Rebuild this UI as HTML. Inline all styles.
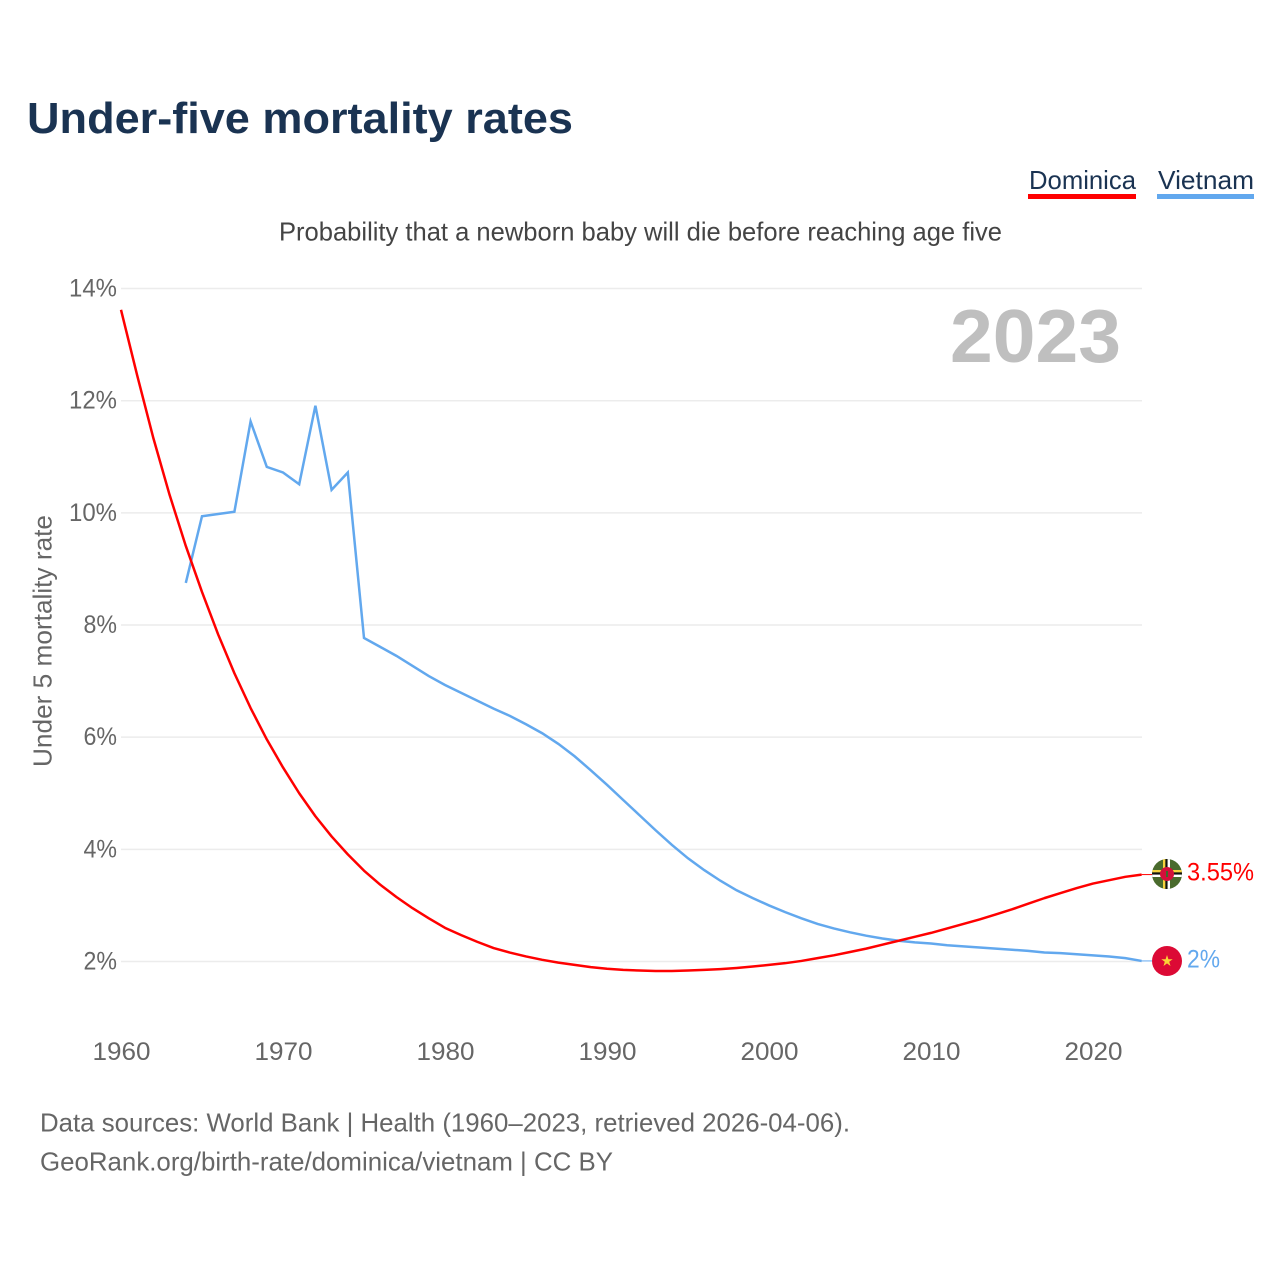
<!DOCTYPE html>
<html lang="en">
<head>
<meta charset="utf-8">
<title>Under-five mortality rates</title>
<style>
html,body{margin:0;padding:0;background:#fff;width:1280px;height:1280px;overflow:hidden}
svg{display:block}
text{font-family:"Liberation Sans",sans-serif}
</style>
</head>
<body>
<svg id="chart" xmlns="http://www.w3.org/2000/svg" width="1280" height="1280" viewBox="0 0 1280 1280">
  <defs>
    <clipPath id="clip-dm"><circle cx="1167" cy="874" r="15"/></clipPath>
    <clipPath id="clip-vn"><circle cx="1167" cy="961" r="15"/></clipPath>
  </defs>
  <text x="27" y="133" font-size="44" font-weight="700" fill="#1a3352" textLength="546" lengthAdjust="spacingAndGlyphs">Under-five mortality rates</text>

  <g>
    <text x="1029" y="189" font-size="26" fill="#1a3352" textLength="107" lengthAdjust="spacingAndGlyphs">Dominica</text>
    <rect x="1028" y="194" width="108" height="5" fill="#ff0000"/>
  </g>
  <g>
    <text x="1158" y="189" font-size="26" fill="#1a3352" textLength="96" lengthAdjust="spacingAndGlyphs">Vietnam</text>
    <rect x="1157" y="194" width="97" height="5" fill="#62a8ee"/>
  </g>

  <text x="279" y="240.5" font-size="26" fill="#444" textLength="723" lengthAdjust="spacingAndGlyphs">Probability that a newborn baby will die before reaching age five</text>
  <text transform="translate(51.5,767) rotate(-90)" font-size="26" fill="#666" textLength="252" lengthAdjust="spacingAndGlyphs">Under 5 mortality rate</text>

  <g id="grid"></g>
  <g id="y-ticks"></g>
  <g id="x-ticks"></g>

  <text x="950" y="362" font-size="75" font-weight="700" fill="#bfbfbf" textLength="171" lengthAdjust="spacingAndGlyphs">2023</text>

  <g id="series"></g>

  <g clip-path="url(#clip-dm)">
    <rect x="1152" y="859" width="30" height="30" fill="#4a6b2d"/>
    <rect x="1163" y="859" width="2.4" height="30" fill="#f5d33c"/>
    <rect x="1165.4" y="859" width="2.2" height="30" fill="#111"/>
    <rect x="1167.6" y="859" width="2.4" height="30" fill="#fff"/>
    <rect x="1152" y="870" width="30" height="2.4" fill="#f5d33c"/>
    <rect x="1152" y="872.4" width="30" height="2.2" fill="#111"/>
    <rect x="1152" y="874.6" width="30" height="2.4" fill="#fff"/>
    <circle cx="1167" cy="874" r="7" fill="#d3103a"/>
    <rect x="1166" y="871" width="2" height="6" fill="#3d6b2a"/>
  </g>
  <g clip-path="url(#clip-vn)">
    <rect x="1152" y="946" width="30" height="30" fill="#dc0a35"/>
    <polygon points="1167,955 1168.4,959.2 1172.7,959.2 1169.2,961.8 1170.5,966 1167,963.4 1163.5,966 1164.8,961.8 1161.3,959.2 1165.6,959.2" fill="#fbd437"/>
  </g>

  <text x="1187" y="880.5" font-size="25" fill="#ff0000" textLength="67" lengthAdjust="spacingAndGlyphs">3.55%</text>
  <text x="1187" y="967.5" font-size="25" fill="#62a8ee" textLength="33" lengthAdjust="spacingAndGlyphs">2%</text>

  <text x="40" y="1131.5" font-size="26" fill="#666" textLength="810" lengthAdjust="spacingAndGlyphs">Data sources: World Bank | Health (1960–2023, retrieved 2026-04-06).</text>
  <text x="40" y="1170.5" font-size="26" fill="#666" textLength="573" lengthAdjust="spacingAndGlyphs">GeoRank.org/birth-rate/dominica/vietnam | CC BY</text>
</svg>
<script>
var yTickValues = [2, 4, 6, 8, 10, 12, 14];
var xTickYears = [1960, 1970, 1980, 1990, 2000, 2010, 2020];
var dominicaStartYear = 1960;
var dominicaValues = [
  13.62, 12.45, 11.33, 10.32, 9.41, 8.59, 7.83, 7.14, 6.52, 5.96,
  5.46, 5.00, 4.59, 4.23, 3.91, 3.62, 3.37, 3.15, 2.95, 2.77,
  2.60, 2.47, 2.35, 2.24, 2.16, 2.09, 2.03, 1.98, 1.94, 1.90,
  1.87, 1.85, 1.84, 1.83, 1.83, 1.84, 1.85, 1.865, 1.885, 1.91,
  1.94, 1.97, 2.01, 2.06, 2.11, 2.17, 2.23, 2.30, 2.37, 2.44,
  2.51, 2.59, 2.67, 2.75, 2.84, 2.93, 3.03, 3.13, 3.22, 3.31,
  3.39, 3.45, 3.51, 3.55
];
var vietnamStartYear = 1964;
var vietnamValues = [
  8.75, 9.94, 9.98, 10.02, 11.63, 10.82,
  10.72, 10.51, 11.91, 10.41, 10.72, 7.77, 7.61, 7.45, 7.27, 7.09,
  6.93, 6.79, 6.65, 6.51, 6.38, 6.23, 6.07, 5.88, 5.66, 5.41,
  5.15, 4.88, 4.61, 4.34, 4.08, 3.84, 3.63, 3.44, 3.27, 3.13,
  3.00, 2.88, 2.77, 2.67, 2.59, 2.52, 2.46, 2.41, 2.37, 2.34,
  2.32, 2.29, 2.27, 2.25, 2.23, 2.21, 2.19, 2.16, 2.15, 2.13,
  2.11, 2.09, 2.06, 2.01
];

var NS = 'http://www.w3.org/2000/svg';
function xScale(year) { return 121 + (year - 1960) * 16.2; }
function yScale(value) { return 961.5 - (value - 2) * 56.08; }
function make(tag, attrs, parent) {
  var el = document.createElementNS(NS, tag);
  for (var k in attrs) { el.setAttribute(k, attrs[k]); }
  parent.appendChild(el);
  return el;
}

var gridGroup = document.getElementById('grid');
var yTickGroup = document.getElementById('y-ticks');
var xTickGroup = document.getElementById('x-ticks');
var seriesGroup = document.getElementById('series');

yTickValues.forEach(function (v) {
  var line = make('line', { x1: 121, x2: 1142, y1: yScale(v), y2: yScale(v), stroke: '#ececec', 'stroke-width': 1.5 }, gridGroup);
  
  
  var label = String(v) + '%';
  var width = (label.length - 1) * 14.5 + 19;
  var t = make('text', { x: 117 - width, y: yScale(v) + 8, 'font-size': 25, fill: '#666', textLength: width, lengthAdjust: 'spacingAndGlyphs' }, yTickGroup);
  t.textContent = label;
  
  
});

xTickYears.forEach(function (year) {
  var t = make('text', { x: xScale(year) - 28.5, y: 1060, 'font-size': 25, fill: '#666', textLength: 58, lengthAdjust: 'spacingAndGlyphs' }, xTickGroup);
  t.textContent = String(year);
  
  
});

function linePath(startYear, values) {
  return values.map(function (v, i) {
    return (i ? 'L' : 'M') + xScale(startYear + i).toFixed(2) + ' ' + yScale(v).toFixed(2);
  }).join(' ');
}

var vietnamLine = make('path', { d: linePath(vietnamStartYear, vietnamValues), fill: 'none', stroke: '#62a8ee', 'stroke-width': 2.5, 'stroke-linejoin': 'miter' }, seriesGroup);



var dominicaLine = make('path', { d: linePath(dominicaStartYear, dominicaValues), fill: 'none', stroke: '#ff0000', 'stroke-width': 2.5, 'stroke-linejoin': 'round' }, seriesGroup);



var lastDominica = dominicaValues[dominicaValues.length - 1];
var lastVietnam = vietnamValues[vietnamValues.length - 1];
var connDominica = make('line', { x1: xScale(2023), x2: 1152, y1: yScale(lastDominica), y2: yScale(lastDominica), stroke: '#ff0000', 'stroke-width': 1 }, seriesGroup);


var connVietnam = make('line', { x1: xScale(2023), x2: 1152, y1: yScale(lastVietnam), y2: yScale(lastVietnam), stroke: '#62a8ee', 'stroke-width': 1 }, seriesGroup);


</script>
</body>
</html>
